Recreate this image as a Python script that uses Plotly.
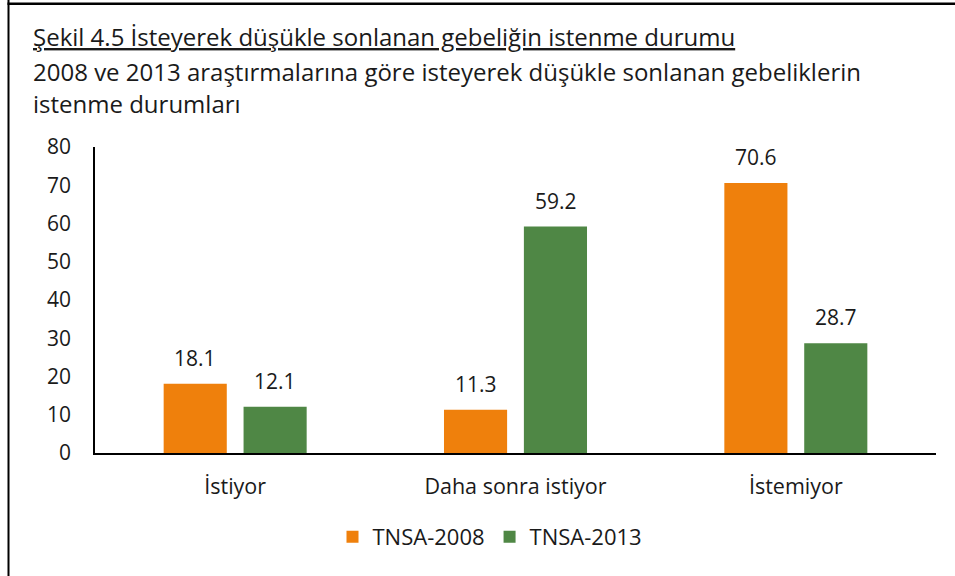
import plotly.graph_objects as go

categories = ["İstiyor", "Daha sonra istiyor", "İstemiyor"]
series_names = ["TNSA-2008", "TNSA-2013"]
values_2008 = [18.1, 11.3, 70.6]
values_2013 = [12.1, 59.2, 28.7]
y_ticks = [0, 10, 20, 30, 40, 50, 60, 70, 80]
colors = ["#EF800C", "#4F8745"]

FONT = "Open Sans"
TXT = "#1a1a1a"
W, H = 955, 576
L, R, T, B = 95, 19, 147, 123

fig = go.Figure()
for name, vals, col in zip(series_names, [values_2008, values_2013], colors):
    fig.add_trace(go.Bar(x=categories, y=vals, name=name, marker=dict(color=col, line=dict(width=0)),
                         hoverinfo="skip"))

# data labels
for vals, shift in zip([values_2008, values_2013], [-40, 40]):
    for c, v in zip(categories, vals):
        fig.add_annotation(x=c, y=v, xref="x", yref="y", text=f"{v:.1f}", showarrow=False,
                           xshift=shift, yshift=10, yanchor="bottom",
                           font=dict(family=FONT, size=21, color=TXT))

pw = W - L - R
ph = H - T - B
def px(xp):
    return (xp - L) / pw
def py(yp):
    return (H - B - yp) / ph

# title lines
fig.add_annotation(xref="paper", yref="paper", x=px(31), y=py(37), xanchor="left", yanchor="middle",
                   text="<u>Şekil 4.5 İsteyerek düşükle sonlanan gebeliğin istenme durumu</u>",
                   showarrow=False, font=dict(family=FONT, size=24, color=TXT))
fig.add_annotation(xref="paper", yref="paper", x=px(31), y=py(71), xanchor="left", yanchor="middle",
                   text="2008 ve 2013 araştırmalarına göre isteyerek düşükle sonlanan gebeliklerin",
                   showarrow=False, font=dict(family=FONT, size=24, color=TXT))
fig.add_annotation(xref="paper", yref="paper", x=px(31), y=py(103), xanchor="left", yanchor="middle",
                   text="istenme durumları",
                   showarrow=False, font=dict(family=FONT, size=24, color=TXT))

# frame lines (left and top)
fig.add_shape(type="rect", xref="paper", yref="paper", x0=px(7.5), x1=px(9.5), y0=py(0), y1=py(576),
              fillcolor="black", line=dict(width=0), layer="above")
fig.add_shape(type="rect", xref="paper", yref="paper", x0=px(7.5), x1=px(955), y0=py(2.5), y1=py(5),
              fillcolor="black", line=dict(width=0), layer="above")

fig.update_layout(
    width=W, height=H,
    margin=dict(l=L, r=R, t=T, b=B, autoexpand=False),
    paper_bgcolor="white", plot_bgcolor="white",
    barmode="group", bargap=0.43, bargroupgap=0.21,
    showlegend=True,
    legend=dict(orientation="h", x=px(490), y=py(537), xanchor="center", yanchor="middle",
                font=dict(family=FONT, size=22, color=TXT), itemwidth=30, traceorder="normal"),
    font=dict(family=FONT, color=TXT),
)
fig.update_xaxes(showline=True, linecolor="black", linewidth=2, showgrid=False, ticks="",
                 tickfont=dict(family=FONT, size=21.5, color=TXT), ticklabelstandoff=13)
fig.update_yaxes(range=[0, 80], tickvals=y_ticks, showline=True, linecolor="black", linewidth=1.5,
                 showgrid=False, zeroline=False, ticks="",
                 tickfont=dict(family=FONT, size=21, color=TXT), ticklabelstandoff=18)

fig.write_html("out.html", config={"displayModeBar": False},
               post_script="document.body.style.margin='0px';document.body.style.padding='0px';")
